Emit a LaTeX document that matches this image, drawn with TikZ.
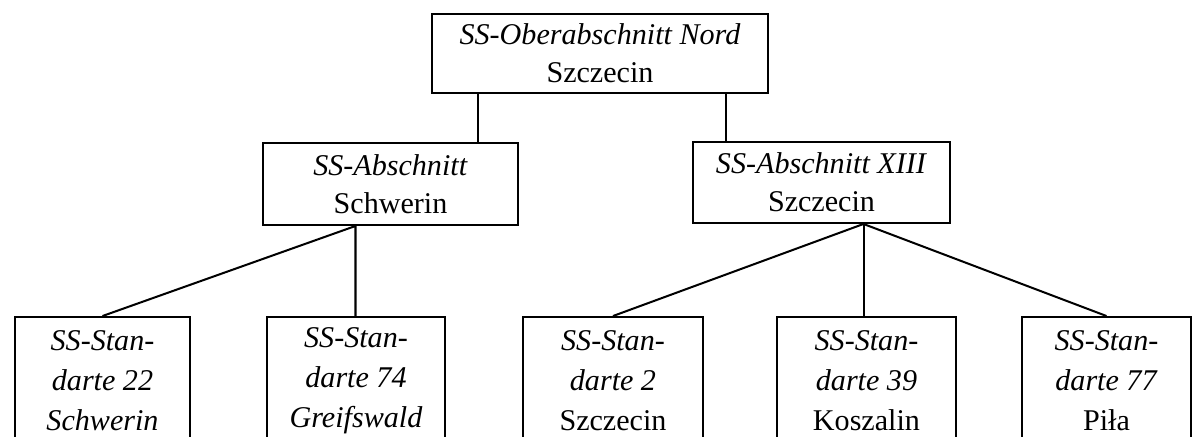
\documentclass[tikz,border=0pt]{standalone}
\usepackage{fontspec}
\setmainfont{Liberation Serif}
\usetikzlibrary{calc}

\tikzset{
	box/.style={draw, line width=0.8pt, inner sep=0pt, align=center,
		font=\fontsize{12}{15}\selectfont},
	unit/.style={box, minimum height=1.792cm,
		font=\fontsize{12}{16}\selectfont},
	link/.style={line width=0.8pt}
}

\begin{document}
\begin{tikzpicture}[x=0.014cm, y=-0.014cm]
	\useasboundingbox (0,0) rectangle (1193,437);
	\clip (0,0) rectangle (1193,437);
	
	\node[box, minimum width=4.704cm, minimum height=1.106cm] (top) at (600,53.5)
		{\textit{SS-Oberabschnitt Nord}\\Szczecin};
	
	\node[box, minimum width=3.57cm, minimum height=1.148cm] (m1) at (390.5,184)
		{\textit{SS-Abschnitt}\\Schwerin};
	\node[box, minimum width=3.598cm, minimum height=1.134cm] (m2) at (821.5,182.5)
		{\textit{SS-Abschnitt XIII}\\Szczecin};
	
	\node[unit, minimum width=2.45cm] (s1) at (102.5,381)
		{\textit{SS-Stan-}\\\textit{darte 22}\\\textit{Schwerin}};
	\node[unit, minimum width=2.492cm] (s2) at (356,381)
		{\textit{SS-Stan-}\\\textit{darte 74}\\\textit{Greifswald}};
	\node[unit, minimum width=2.52cm] (s3) at (613,381)
		{\textit{SS-Stan-}\\\textit{darte 2}\\Szczecin};
	\node[unit, minimum width=2.506cm] (s4) at (866.5,381)
		{\textit{SS-Stan-}\\\textit{darte 39}\\Koszalin};
	\node[unit, minimum width=2.366cm] (s5) at (1106.5,381)
		{\textit{SS-Stan-}\\\textit{darte 77}\\Piła};
	
	\coordinate (c1) at ($(top.south)+(-122,0)$);
	\coordinate (c2) at ($(top.south)+(126,0)$);
	\coordinate (d1) at ($(m1.south)+(-35,0)$);
	\coordinate (d2) at ($(m2.south)+(42,0)$);
	
	\draw[link] (c1) -- (c1 |- m1.north);
	\draw[link] (c2) -- (c2 |- m2.north);
	\draw[link] (s1.north) -- (d1) -- (d1 |- s2.north);
	\draw[link] (s3.north) -- (d2) -- (s5.north);
	\draw[link] (d2) -- (d2 |- s4.north);
\end{tikzpicture}
\end{document}
